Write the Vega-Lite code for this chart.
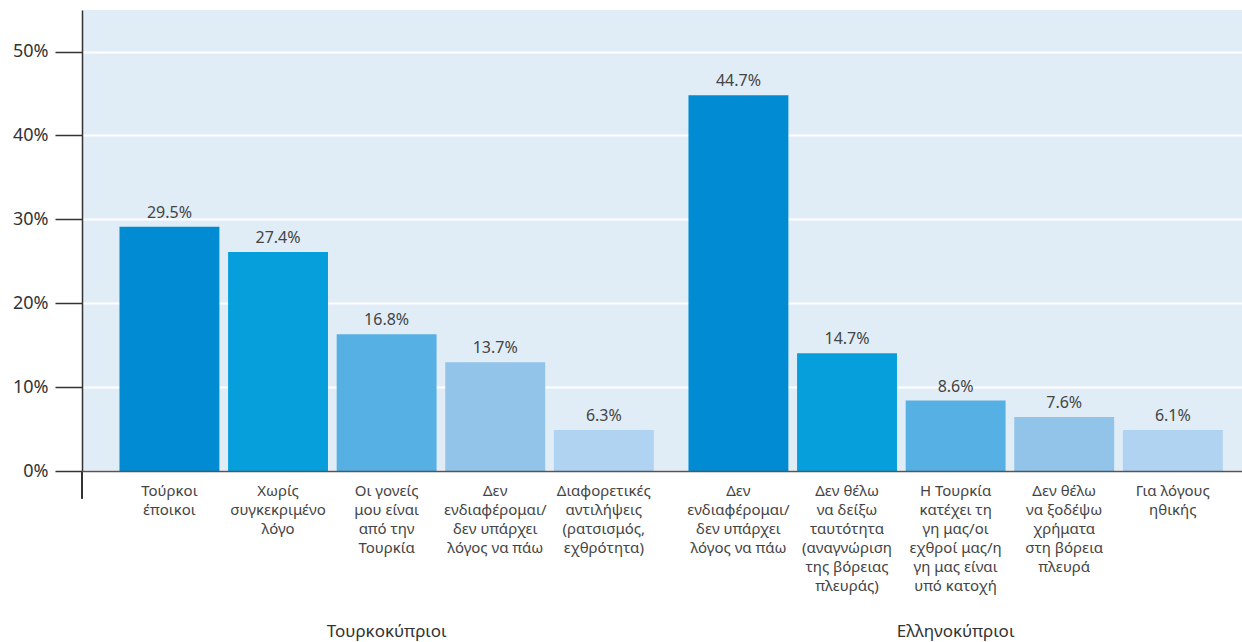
{
  "$schema": "https://vega.github.io/schema/vega-lite/v6.json",
  "width": 1160,
  "height": 461,
  "padding": {"left": 82, "top": 10, "right": 0, "bottom": 171},
  "autosize": {"type": "none"},
  "background": "white",
  "config": {
    "view": {"fill": "#e0edf7", "stroke": null},
    "font": "Noto Sans"
  },
  "data": {
    "values": [
      {"group": "Τουρκοκύπριοι", "rank": 1, "value": 29.1, "label": "29.5%", "category": "Τούρκοι\nέποικοι"},
      {"group": "Τουρκοκύπριοι", "rank": 2, "value": 26.1, "label": "27.4%", "category": "Χωρίς\nσυγκεκριμένο\nλόγο"},
      {"group": "Τουρκοκύπριοι", "rank": 3, "value": 16.3, "label": "16.8%", "category": "Οι γονείς\nμου είναι\nαπό την\nΤουρκία"},
      {"group": "Τουρκοκύπριοι", "rank": 4, "value": 12.95, "label": "13.7%", "category": "Δεν\nενδιαφέρομαι/\nδεν υπάρχει\nλόγος να πάω"},
      {"group": "Τουρκοκύπριοι", "rank": 5, "value": 4.9, "label": "6.3%", "category": "Διαφορετικές\nαντιλήψεις\n(ρατσισμός,\nεχθρότητα)"},
      {"group": "Ελληνοκύπριοι", "rank": 1, "value": 44.8, "label": "44.7%", "category": "Δεν\nενδιαφέρομαι/\nδεν υπάρχει\nλόγος να πάω"},
      {"group": "Ελληνοκύπριοι", "rank": 2, "value": 14.05, "label": "14.7%", "category": "Δεν θέλω\nνα δείξω\nταυτότητα\n(αναγνώριση\nτης βόρειας\nπλευράς)"},
      {"group": "Ελληνοκύπριοι", "rank": 3, "value": 8.4, "label": "8.6%", "category": "Η Τουρκία\nκατέχει τη\nγη μας/οι\nεχθροί μας/η\nγη μας είναι\nυπό κατοχή"},
      {"group": "Ελληνοκύπριοι", "rank": 4, "value": 6.45, "label": "7.6%", "category": "Δεν θέλω\nνα ξοδέψω\nχρήματα\nστη βόρεια\nπλευρά"},
      {"group": "Ελληνοκύπριοι", "rank": 5, "value": 4.9, "label": "6.1%", "category": "Για λόγους\nηθικής"}
    ]
  },
  "encoding": {
    "x": {
      "field": "group",
      "type": "nominal",
      "sort": ["Τουρκοκύπριοι", "Ελληνοκύπριοι"],
      "scale": {"paddingInner": 0.0457, "paddingOuter": 0.0422, "align": 0.69},
      "axis": {
        "title": null,
        "labelAngle": 0,
        "labelFontSize": 17,
        "labelColor": "#333333",
        "labelPadding": 152,
        "ticks": false,
        "domain": true,
        "domainColor": "#555555",
        "domainWidth": 1.5,
        "zindex": 1
      }
    },
    "xOffset": {
      "field": "rank",
      "type": "ordinal",
      "scale": {"paddingInner": 0.08, "paddingOuter": 0.04}
    }
  },
  "layer": [
    {
      "mark": {"type": "bar"},
      "encoding": {
        "y": {
          "field": "value",
          "type": "quantitative",
          "scale": {"domain": [0, 54.95], "nice": false},
          "axis": {
            "title": null,
            "values": [0, 10, 20, 30, 40, 50],
            "labelExpr": "datum.value + '%'",
            "labelFontSize": 18,
            "labelColor": "#333333",
            "labelPadding": 7,
            "tickSize": 27,
            "tickColor": "#333333",
            "tickWidth": 1.5,
            "domainColor": "#333333",
            "domainWidth": 1.5,
            "grid": true,
            "gridColor": "#ffffff",
            "gridWidth": 2,
            "zindex": 0
          }
        },
        "color": {
          "field": "rank",
          "type": "ordinal",
          "scale": {"range": ["#008bd2", "#069fdb", "#56b0e3", "#92c4ea", "#afd3f0"]},
          "legend": null
        }
      }
    },
    {
      "mark": {"type": "text", "baseline": "alphabetic", "dy": -9, "fontSize": 16, "color": "#444444"},
      "encoding": {
        "y": {"field": "value", "type": "quantitative"},
        "text": {"field": "label"}
      }
    },
    {
      "mark": {"type": "text", "baseline": "top", "dy": 13, "fontSize": 15, "color": "#444444", "lineBreak": "\n", "lineHeight": 19, "align": "center"},
      "encoding": {
        "y": {"datum": 0},
        "text": {"field": "category"}
      }
    },
    {
      "mark": {"type": "rule", "color": "#333333", "strokeWidth": 1.5},
      "encoding": {
        "x": {"datum": "Τουρκοκύπριοι", "bandPosition": -0.0608},
        "xOffset": null,
        "y": {"datum": 0},
        "y2": {"datum": -3.25}
      }
    }
  ]
}
